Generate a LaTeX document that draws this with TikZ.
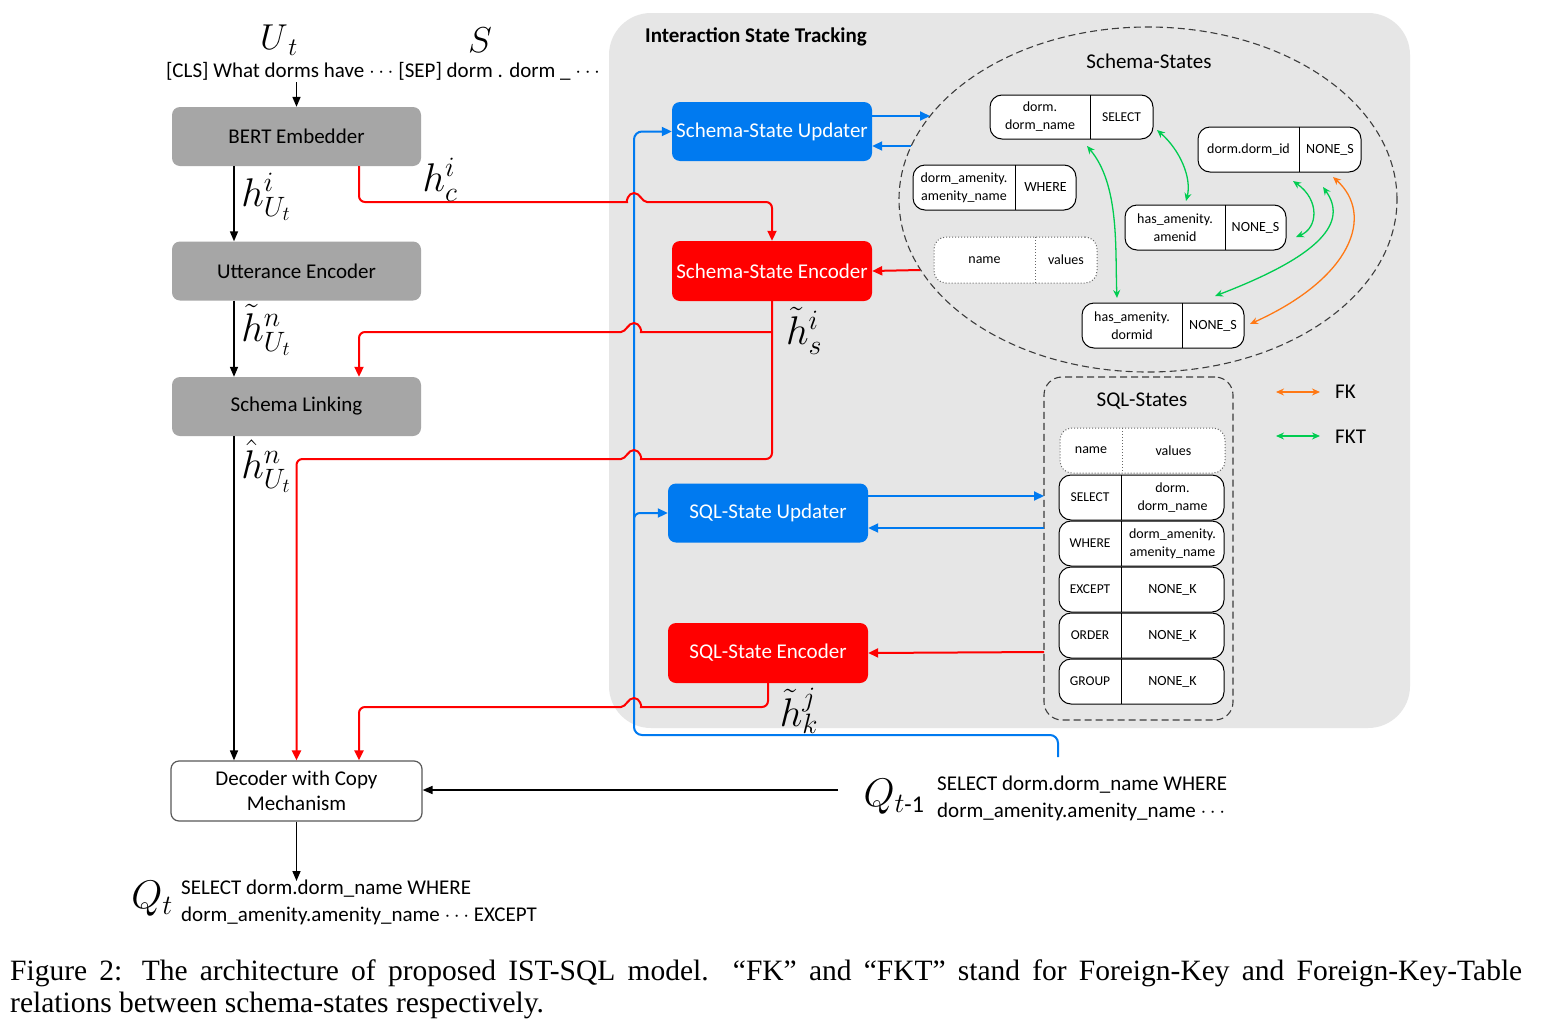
\RequirePackage{fix-cm}
\documentclass[tikz,border=0pt]{standalone}
\usepackage{fontspec}
\setmainfont{Carlito}
\newfontfamily\capfont{Liberation Serif}
\usetikzlibrary{arrows.meta,fit,calc,shapes.geometric}
\definecolor{boxgray}{RGB}{166,166,166}
\definecolor{panelgray}{RGB}{230,230,230}
\definecolor{myblue}{RGB}{0,122,240}
\definecolor{myred}{RGB}{255,0,0}
\definecolor{mygreen}{RGB}{0,204,80}
\definecolor{myorange}{RGB}{255,120,20}
\definecolor{dashgray}{RGB}{60,60,60}
\newcommand\mainfs{\fontsize{21}{25}\selectfont}
\newcommand\smallfs{\fontsize{14}{18}\selectfont}
\newcommand\tinycaps{\fontsize{13.5}{15}\selectfont}
\newcommand\mathfs{\fontsize{40}{46}\selectfont}
\newcommand\capfs{\fontsize{29.5}{33}\selectfont}
% hops over the blue vertical line at x=634
\newcommand\hopR[1]{-- (621,#1) [sharp corners] .. controls (626,#1) and (628,#1-9) .. (634,#1-9) .. controls (640,#1-9) and (642,#1) .. (647,#1) [rounded corners=6]}
\newcommand\hopL[1]{-- (647,#1) [sharp corners] .. controls (642,#1) and (640,#1-9) .. (634,#1-9) .. controls (628,#1-9) and (626,#1) .. (621,#1) [rounded corners=6]}
% two-cell state box: name, x1, y1, x2, y2, xsplit, left, right, style
\newcommand\twocell[9]{%
  \node[cellbox,#9,fit={(#2,#3) (#4,#5)}] (#1) {};
  \draw[#9,line width=1] (#6,#3) -- (#6,#5);
  \node[celltext] (#1l) at ({(#2+#6)/2},{(#3+#5)/2}) {#7};
  \node[celltext] (#1r) at ({(#6+#4)/2},{(#3+#5)/2}) {#8};
}
\begin{document}
\begin{tikzpicture}[x=1pt,y=-1pt,
  graybox/.style={fill=boxgray, rounded corners=8, inner sep=0, minimum width=249, minimum height=59, font=\mainfs},
  bluebox/.style={fill=myblue, text=white, rounded corners=8, inner sep=0, minimum width=200, minimum height=59, font=\mainfs},
  redbox/.style={fill=myred, text=white, rounded corners=8, inner sep=0, minimum width=200, minimum height=60, font=\mainfs},
  cellbox/.style={draw=black, line width=1, fill=white, rounded corners=12, inner sep=0},
  dottedcell/.style={dotted, draw=black!60},
  solidcell/.style={},
  celltext/.style={font=\smallfs, align=center, inner sep=0},
  arr/.style={-{Triangle[length=10,width=8]}, line width=1.6, black},
  redarr/.style={-{Triangle[length=10,width=9]}, line width=2, myred},
  bluearr/.style={-{Triangle[length=10,width=9]}, line width=2, myblue},
  greenarr/.style={{Stealth[length=8,width=7]}-{Stealth[length=8,width=7]}, line width=1.3, mygreen},
  orangearr/.style={{Stealth[length=8,width=7]}-{Stealth[length=8,width=7]}, line width=1.3, myorange},
  mlabel/.style={font=\mathfs, inner sep=0},
  txt/.style={font=\mainfs, inner sep=0}
]
\useasboundingbox (0,0) rectangle (1543,1031);
\fill[white] (0,0) rectangle (1543,1031);

% ---------- panel ----------
\node[fit={(609,13) (1410,728)}, inner sep=0, fill=panelgray, rounded corners=42] (panel) {};
\node[anchor=west, font=\bfseries\mainfs, inner sep=0] (ist) at (645,37) {Interaction State Tracking};

% ---------- left column ----------
\node[font=\fontsize{36}{40}\selectfont, inner sep=0] (ut) at (279,40) {$U_{\,t}$};
\node[font=\fontsize{36}{40}\selectfont, inner sep=0] (s) at (480,40) {$S$};
\node[txt] (inp) at (383,71) {[CLS] What dorms have $\cdots$ [SEP] dorm . dorm \_ $\cdots$};
\node[graybox] (bert) at (296.5,136.5) {BERT Embedder};
\node[graybox] (utt) at (296.5,271) {Utterance Encoder};
\node[graybox] (sl) at (296.5,406.5) {Schema Linking};
\node[draw=black!65, line width=1.2, fill=white, rounded corners=8, inner sep=0, minimum width=251, minimum height=60, align=center, font=\mainfs] (dec) at (296.5,791) {Decoder with Copy\\Mechanism};

\draw[arr] (bert.north |- 0,82) -- (bert.north);
\draw[arr] ([xshift=-62.5]bert.south) -- ([xshift=-62.5]utt.north);
\draw[arr] ([xshift=-62.5]utt.south) -- ([xshift=-62.5]sl.north);
\draw[arr] ([xshift=-62.5]sl.south) -- ([xshift=-62.5]dec.north);
\node[mlabel] (l1) at (266,197) {$h^{i}_{U_t}$};
\node[mlabel] (l2) at (266,330) {$\tilde{h}^{n}_{U_t}$};
\node[mlabel] (l3) at (266,466) {$\hat{h}^{n}_{U_t}$};

% ---------- blue/red modules ----------
\node[bluebox] (ssu) at (772,131.5) {Schema-State Updater};
\node[redbox] (sse) at (772,271) {Schema-State Encoder};
\node[bluebox] (squ) at (768,513) {SQL-State Updater};
\node[redbox] (sqe) at (768,653) {SQL-State Encoder};

% blue feedback line
\coordinate (qprev) at (1058,757);
\draw[bluearr, rounded corners=8] (qprev) -- (1058,735) -- (634,735) -- (634,131.5) -- (ssu.west);
\draw[bluearr, rounded corners=6] (634,530) -- (634,513) -- (squ.west);

% red lines
\draw[redarr, rounded corners=6] ([xshift=62.5]bert.south) -- (359,202) \hopR{202} -- (772,202) -- (sse.north);
\node[mlabel] (hc) at (440,180) {$h^{i}_{c}$};
\draw[redarr, rounded corners=6] (sse.south) -- (772,459) \hopL{459} -- (296.5,459) -- (dec.north);
\coordinate (br) at (772,332);
\draw[redarr, rounded corners=6] (br) \hopL{332} -- (359,332) -- ([xshift=62.5]sl.north);
\node[mlabel] (hs) at (804,331) {$\tilde{h}^{i}_{s}$};
\draw[redarr, rounded corners=6] (sqe.south) -- (768,707) \hopL{707} -- (359,707) -- ([xshift=62.5]dec.north);
\node[mlabel] (hk) at (799,711) {$\tilde{h}^{j}_{k}$};

% ---------- schema states ----------
\node[draw=dashgray, dash pattern=on 7pt off 4pt, line width=1.1, ellipse, inner sep=0, minimum width=498, minimum height=345] (ell) at (1148,199.5) {};
\node[txt] (sst) at (1149,61) {Schema-States};
\twocell{sa}{990}{95}{1153}{139}{1090}{dorm.\\dorm\_name}{\tinycaps SELECT}{solidcell}
\twocell{sb}{913}{165}{1076}{210}{1015}{dorm\_amenity.\\amenity\_name}{WHERE}{solidcell}
\twocell{sc}{934}{237}{1097}{283}{1035}{name}{values}{dottedcell}
\twocell{sd}{1125}{205}{1286}{250}{1225}{has\_amenity.\\amenid}{NONE\_S}{solidcell}
\twocell{se}{1198}{127}{1361}{172}{1299}{dorm.dorm\_id}{NONE\_S}{solidcell}
\twocell{sf}{1082}{303}{1244}{348}{1182}{has\_amenity.\\dormid}{NONE\_S}{solidcell}

\coordinate (e1) at (930,116);
\coordinate (e2) at (911,146);
\coordinate (e3) at (920,270);
\draw[bluearr] ([yshift=15.5]ssu.east) -- (e1);
\draw[bluearr] (e2) -- ([yshift=-14.5]ssu.east);
\draw[redarr] (e3) -- (sse.east);

% relations
\coordinate (g1a) at (1087,146); \coordinate (g1b) at (1117,298);
\coordinate (g2a) at (1157,130); \coordinate (g2b) at (1186,201);
\coordinate (g3a) at (1293,181); \coordinate (g3b) at (1296,237);
\coordinate (g4a) at (1323,187); \coordinate (g4b) at (1215,296);
\coordinate (o1a) at (1333,177); \coordinate (o1b) at (1250,324);
\draw[greenarr] (g1a) .. controls (1120,185) and (1115,250) .. (g1b);
\draw[greenarr] (g2a) .. controls (1180,150) and (1192,178) .. (g2b);
\draw[greenarr] (g3a) .. controls (1320,200) and (1318,228) .. (g3b);
\draw[greenarr] (g4a) .. controls (1348,222) and (1322,255) .. (g4b);
\draw[orangearr] (o1a) .. controls (1375,215) and (1352,278) .. (o1b);

% legend
\coordinate (fka) at (1276,392); \coordinate (fkb) at (1320,392);
\coordinate (fkta) at (1276,436); \coordinate (fktb) at (1320,436);
\draw[orangearr] (fka) -- (fkb);
\draw[greenarr] (fkta) -- (fktb);
\node[txt, anchor=west] (fk) at (1335,392) {FK};
\node[txt, anchor=west] (fkt) at (1335,437) {FKT};

% ---------- SQL states ----------
\node[fit={(1044,377) (1233,720)}, inner sep=0, draw=dashgray, dash pattern=on 7pt off 4pt, line width=1.1, rounded corners=18] (sqls) {};
\node[txt] (sqlt) at (1142,401) {SQL-States};
\twocell{qa}{1060}{428}{1225}{473}{1122}{name}{values}{dottedcell}
\twocell{qb}{1059}{475}{1224}{520}{1121}{\tinycaps SELECT}{dorm.\\dorm\_name}{solidcell}
\twocell{qc}{1059}{521}{1224}{566}{1121}{\tinycaps WHERE}{dorm\_amenity.\\amenity\_name}{solidcell}
\twocell{qd}{1059}{567}{1224}{612}{1121}{\tinycaps EXCEPT}{NONE\_K}{solidcell}
\twocell{qe}{1059}{613}{1224}{658}{1121}{\tinycaps ORDER}{NONE\_K}{solidcell}
\twocell{qf}{1059}{659}{1224}{704}{1121}{\tinycaps GROUP}{NONE\_K}{solidcell}

\coordinate (s1) at (1044,496);
\coordinate (s2) at (1044,528);
\coordinate (s3) at (1044,652);
\draw[bluearr] ([yshift=17]squ.east) -- (s1);
\draw[bluearr] (s2) -- ([yshift=-15]squ.east);
\draw[redarr] (s3) -- (sqe.east);

% ---------- bottom ----------
\coordinate (qin) at (838,790);
\draw[arr] (qin) -- (dec.east |- qin);
\node[font=\fontsize{40}{46}\selectfont, inner sep=0] (qtm1) at (894,797) {$Q_{t\mbox{\fontsize{24}{28}\selectfont\rmfamily-1}}$};
\node[txt, anchor=west] (qtm1a) at (937,785) {SELECT dorm.dorm\_name WHERE};
\node[txt, anchor=west] (qtm1b) at (937,812) {dorm\_amenity.amenity\_name $\cdots$};

\coordinate (qout) at (296.5,881);
\draw[arr] (dec.south) -- (qout);
\node[font=\fontsize{40}{46}\selectfont, inner sep=0] (qt) at (152,899) {$Q_t$};
\node[txt, anchor=west] (qta) at (181,889) {SELECT dorm.dorm\_name WHERE};
\node[txt, anchor=west] (qtb) at (181,916) {dorm\_amenity.amenity\_name $\cdots$ EXCEPT};

% ---------- caption ----------
\node[anchor=base west, inner sep=0, font=\capfont\capfs] (cap1) at (10,980) {\makebox[1512pt][s]{Figure 2: The architecture of proposed IST-SQL model. “FK” and “FKT” stand for Foreign-Key and Foreign-Key-Table}};
\node[anchor=base west, inner sep=0, font=\capfont\capfs] (cap2) at (10,1012) {relations between schema-states respectively.};
\end{tikzpicture}
\end{document}
